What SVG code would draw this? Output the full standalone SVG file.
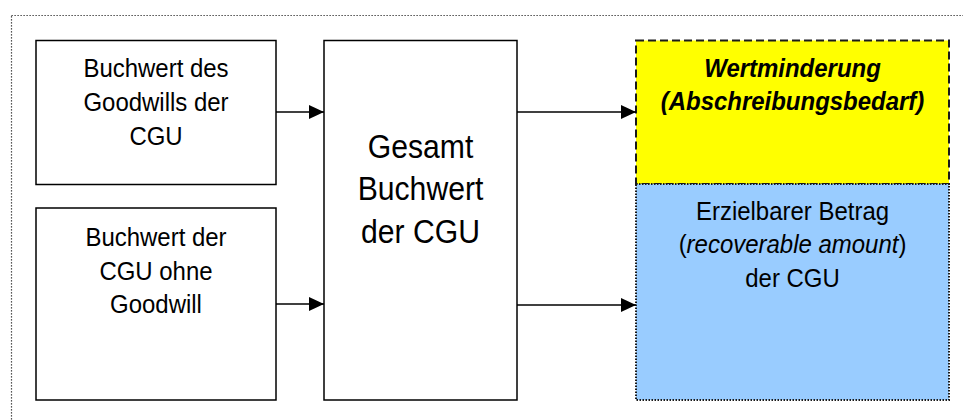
<svg xmlns="http://www.w3.org/2000/svg" width="963" height="420" viewBox="0 0 963 420">
  <defs>
    <marker id="arrow" markerUnits="userSpaceOnUse" markerWidth="15" markerHeight="14" refX="15" refY="7" orient="auto">
      <path d="M0,0 L15,7 L0,14 Z" fill="#000"/>
    </marker>
    <style>
      .box { fill: #fff; stroke: #000; stroke-width: 1.5; }
      .loss { fill: #ffff00; stroke: #1a1a1a; stroke-width: 2; stroke-dasharray: 8 4; }
      .recov { fill: #99ccff; stroke: #1a1a1a; stroke-width: 2; stroke-dasharray: 1.5 1.5; }
      .frame { fill: none; stroke: #222; stroke-width: 1.2; stroke-dasharray: 1.2 1.8; }
      .conn { stroke: #000; stroke-width: 1.5; fill: none; marker-end: url(#arrow); }
      text { font-family: "Liberation Sans", Arial, sans-serif; font-size: 25.5px; fill: #000; text-anchor: middle; }
      .big { font-size: 33.5px; }
      .bi { font-weight: bold; font-style: italic; }
      .it { font-style: italic; }
    </style>
  </defs>

  <!-- dotted outer frame (runs past the right and bottom edges) -->
  <rect class="frame" x="11.5" y="15.5" width="970" height="420"/>

  <g id="node-goodwill">
    <rect class="box" x="36" y="40.5" width="240" height="144"/>
    <g transform="translate(156 0) scale(0.94 1)">
      <text x="0" y="77">Buchwert des</text>
      <text x="0" y="111">Goodwills der</text>
      <text x="0" y="145">CGU</text>
    </g>
  </g>

  <g id="node-ohne-goodwill">
    <rect class="box" x="36" y="208" width="240" height="192"/>
    <g transform="translate(156 0) scale(0.94 1)">
      <text x="0" y="246">Buchwert der</text>
      <text x="0" y="280">CGU ohne</text>
      <text x="0" y="313">Goodwill</text>
    </g>
  </g>

  <g id="node-gesamt">
    <rect class="box" x="324" y="40.5" width="193" height="359.5"/>
    <g transform="translate(420.5 0) scale(0.9 1)">
      <text class="big" x="0" y="158">Gesamt</text>
      <text class="big" x="0" y="200.5">Buchwert</text>
      <text class="big" x="0" y="243">der CGU</text>
    </g>
  </g>

  <g id="node-wertminderung">
    <rect class="loss" x="636" y="40.5" width="313" height="143.5"/>
    <g transform="translate(792.5 0) scale(0.94 1)">
      <text class="bi" x="0" y="77">Wertminderung</text>
      <text class="bi" x="0" y="110">(Abschreibungsbedarf)</text>
    </g>
  </g>

  <g id="node-erzielbar">
    <rect class="recov" x="636" y="184" width="313" height="216"/>
    <g transform="translate(792.5 0) scale(0.94 1)">
      <text x="0" y="220">Erzielbarer Betrag</text>
      <text x="0" y="253">(<tspan class="it">recoverable amount</tspan>)</text>
      <text x="0" y="287">der CGU</text>
    </g>
  </g>

  <g id="connectors">
    <line class="conn" x1="276" y1="112" x2="324" y2="112"/>
    <line class="conn" x1="276" y1="304" x2="324" y2="304"/>
    <line class="conn" x1="517" y1="112" x2="636" y2="112"/>
    <line class="conn" x1="517" y1="305" x2="636" y2="305"/>
  </g>
</svg>
